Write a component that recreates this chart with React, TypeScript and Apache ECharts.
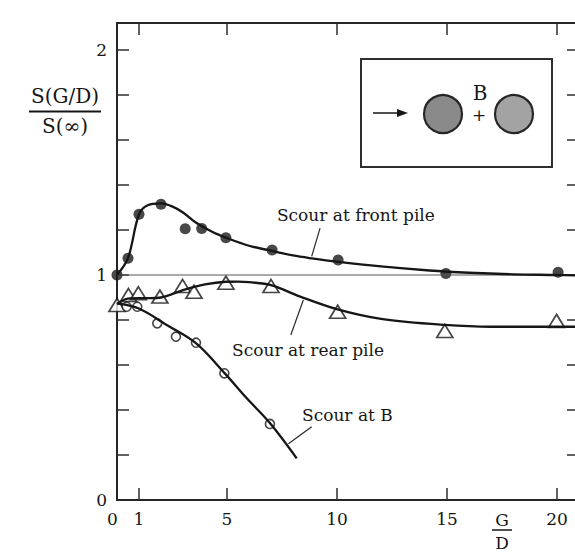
import { useEffect, useRef } from 'react';
import * as echarts from 'echarts';

const FONT = '"DejaVu Serif", "Liberation Serif", serif';
const INK = '#161616';

const X_MIN = 0;
const X_MAX = 21;
const Y_MIN = 0;
const Y_MAX = 2.12;
const xLabelValues = [0, 1, 5, 10, 15, 20];
const xTickValues = [1, 5, 10, 15, 20];
const yLabelValues = [0, 1, 2];
const yTickValues = [0.2, 0.4, 0.6, 0.8, 1.0, 1.2, 1.4, 1.6, 1.8, 2.0];

// Scour at front pile (filled circles)
const frontGD = [0, 0.5, 1.0, 2.0, 3.1, 3.85, 4.95, 7.05, 10.05, 14.95, 20.05];
const frontS = [1.0, 1.074, 1.27, 1.314, 1.206, 1.207, 1.166, 1.111, 1.067, 1.007, 1.012];
// fitted curve, front pile
const frontCurveGD = [0, 0.5, 1.0, 1.4, 2.0, 2.5, 3.0, 3.6, 4.3, 4.95, 6.0, 7.0, 8.0, 8.85, 10.0, 12.0, 14.2, 16.0, 18.0, 20.0, 20.9];
const frontCurveS = [1.0, 1.075, 1.27, 1.31, 1.318, 1.305, 1.278, 1.232, 1.193, 1.166, 1.13, 1.108, 1.087, 1.074, 1.059, 1.038, 1.02, 1.01, 1.003, 1.0, 0.998];

// Scour at rear pile (open triangles)
const rearGD = [0, 0.52, 0.97, 1.95, 2.98, 3.5, 4.95, 7.0, 10.03, 14.9, 19.98];
const rearS = [0.867, 0.911, 0.919, 0.904, 0.951, 0.926, 0.966, 0.951, 0.837, 0.751, 0.796];
const rearCurveGD = [0, 0.5, 1.0, 1.5, 2.0, 2.5, 3.0, 4.0, 4.95, 5.5, 6.0, 7.0, 8.3, 10.03, 12.0, 14.9, 17.0, 20.0, 20.9];
const rearCurveS = [0.87, 0.895, 0.897, 0.897, 0.9, 0.915, 0.933, 0.958, 0.97, 0.971, 0.968, 0.955, 0.905, 0.847, 0.805, 0.778, 0.77, 0.77, 0.77];

// Scour at B (open circles)
const bGD = [0.44, 0.92, 1.83, 2.68, 3.59, 4.88, 6.95];
const bS = [0.859, 0.859, 0.785, 0.726, 0.699, 0.563, 0.338];
const bCurveGD = [0, 0.97, 2.26, 3.6, 4.88, 5.9, 6.95, 8.17];
const bCurveS = [0.874, 0.852, 0.778, 0.696, 0.565, 0.452, 0.342, 0.185];

// reference line S = 1
const refGD = [0, 21];
const refS = [1, 1];

// annotation texts: [G/D, S] of left-middle anchor, arrow from -> to
const annFront = { text: 'Scour at front pile', at: [7.27, 1.267], from: [9.23, 1.208], to: [8.85, 1.083] };
const annRear = { text: 'Scour at rear pile', at: [5.23, 0.667], from: [7.9, 0.733], to: [8.47, 0.889] };
const annB = { text: 'Scour at B', at: [8.41, 0.378], from: [8.85, 0.326], to: [7.79, 0.25] };

const zip = (a: number[], b: number[]) => a.map((v, i) => [v, b[i]]);

export default function App() {
  const ref = useRef<HTMLDivElement>(null);
  useEffect(() => {
    if (!ref.current) return;
    const chart = echarts.init(ref.current, null, { renderer: 'svg' });
    const axisLine = { show: true, onZero: false, lineStyle: { color: '#262626', width: 2 } };
    const tick = (vals: number[]) => ({
      show: true, inside: true, length: 12, customValues: vals,
      lineStyle: { color: '#2e2e2e', width: 1.5 },
    });
    const arrowLine = (a: any) => ({
      symbol: ['none', 'arrow'], symbolSize: [0, 8], silent: true, animation: false,
      lineStyle: { color: '#2a2a2a', width: 1.2, type: 'solid' }, label: { show: false },
      emphasis: { disabled: true },
      data: [[{ coord: a.from }, { coord: a.to }]],
    });
    const option: any = {
      animation: false,
      backgroundColor: '#ffffff',
      grid: { left: 117, top: 23, width: 462, height: 477, outerBoundsMode: 'none', containLabel: false },
      xAxis: [
        {
          type: 'value', min: X_MIN, max: X_MAX, position: 'bottom',
          axisLine, axisTick: tick(xTickValues), splitLine: { show: false },
          axisLabel: {
            customValues: xLabelValues, margin: 10, fontFamily: FONT, fontSize: 17, color: INK,
            formatter: (v: number) => (v === 0 ? '{z|0}' : String(v)),
            rich: { z: { fontFamily: FONT, fontSize: 17, color: INK, padding: [0, 9, 0, 0] } },
          },
        },
        {
          type: 'value', min: X_MIN, max: X_MAX, position: 'top',
          axisLine, axisTick: tick(xTickValues), splitLine: { show: false }, axisLabel: { show: false },
        },
      ],
      yAxis: [
        {
          type: 'value', min: Y_MIN, max: Y_MAX, position: 'left',
          axisLine, axisTick: tick(yTickValues), splitLine: { show: false },
          axisLabel: { customValues: yLabelValues, margin: 10, fontFamily: FONT, fontSize: 17, color: INK },
        },
        {
          type: 'value', min: Y_MIN, max: Y_MAX, position: 'right',
          axisLine, axisTick: tick(yTickValues), splitLine: { show: false }, axisLabel: { show: false },
        },
      ],
      series: [
        {
          type: 'line', data: zip(refGD, refS), symbol: 'none', silent: true,
          lineStyle: { color: '#555', width: 1 },
        },
        {
          type: 'line', data: zip(frontCurveGD, frontCurveS), symbol: 'none', smooth: 0.35, silent: true,
          lineStyle: { color: INK, width: 2.3 }, markLine: arrowLine(annFront),
        },
        {
          type: 'line', data: zip(rearCurveGD, rearCurveS), symbol: 'none', smooth: 0.35, silent: true,
          lineStyle: { color: INK, width: 2.3 }, markLine: arrowLine(annRear),
        },
        {
          type: 'line', data: zip(bCurveGD, bCurveS), symbol: 'none', smooth: 0.35, silent: true,
          lineStyle: { color: INK, width: 2.3 }, markLine: arrowLine(annB),
        },
        {
          type: 'scatter', data: zip(frontGD, frontS), symbol: 'circle', symbolSize: 11, clip: false,
          itemStyle: { color: '#1a1a1a' },
        },
        {
          type: 'scatter', data: zip(rearGD, rearS), symbol: 'triangle', symbolSize: [16, 13], clip: false,
          itemStyle: { color: '#ffffff', borderColor: INK, borderWidth: 1.7 },
        },
        {
          type: 'scatter', data: zip(bGD, bS), symbol: 'circle', symbolSize: 9, clip: false,
          itemStyle: { color: '#ffffff', borderColor: INK, borderWidth: 1.6 },
        },
      ],
    };
    chart.setOption(option);

    const px = (p: number[]) => chart.convertToPixel({ seriesIndex: 0 }, p) as number[];
    const annText = (a: any) => {
      const [x, y] = px(a.at);
      return {
        type: 'text', x, y, silent: true,
        style: { text: a.text, fontFamily: FONT, fontSize: 17, fill: INK, align: 'left', verticalAlign: 'middle' },
      };
    };
    const txt = (text: string, x: number, y: number, size: number) => ({
      type: 'text', x, y, silent: true,
      style: { text, fontFamily: FONT, fontSize: size, fill: INK, align: 'center', verticalAlign: 'middle' },
    });
    chart.setOption({
      graphic: [
        annText(annFront),
        annText(annRear),
        annText(annB),
        // y-axis title fraction
        txt('S(G/D)', 65, 96, 20),
        { type: 'line', shape: { x1: 29, y1: 111.5, x2: 101, y2: 111.5 }, style: { stroke: INK, lineWidth: 2 } },
        txt('S(\u221E)', 65, 126, 20),
        // x-axis title fraction
        txt('G', 502, 520, 17),
        { type: 'line', shape: { x1: 492, y1: 530, x2: 512, y2: 530 }, style: { stroke: INK, lineWidth: 1.5 } },
        txt('D', 502, 543, 17),
        // inset sketch
        { type: 'rect', shape: { x: 361, y: 59, width: 191, height: 108 }, style: { fill: 'none', stroke: '#2e2e2e', lineWidth: 2 } },
        { type: 'line', shape: { x1: 373, y1: 113, x2: 400, y2: 113 }, style: { stroke: INK, lineWidth: 1.5 } },
        { type: 'polygon', shape: { points: [[397, 109], [408, 113], [397, 117]] }, style: { fill: INK } },
        { type: 'circle', shape: { cx: 443, cy: 114, r: 19 }, style: { fill: '#8a8a8a', stroke: '#262626', lineWidth: 2.2 } },
        { type: 'circle', shape: { cx: 514, cy: 114, r: 19 }, style: { fill: '#a3a3a3', stroke: '#262626', lineWidth: 2.2 } },
        txt('B', 480, 93, 20),
        txt('+', 479, 115, 17),
      ],
    });
    return () => chart.dispose();
  }, []);
  return (
    <div
      ref={ref}
      style={{ position: 'absolute', left: 0, top: 0, width: 575, height: 552, background: '#fff' }}
    />
  );
}
